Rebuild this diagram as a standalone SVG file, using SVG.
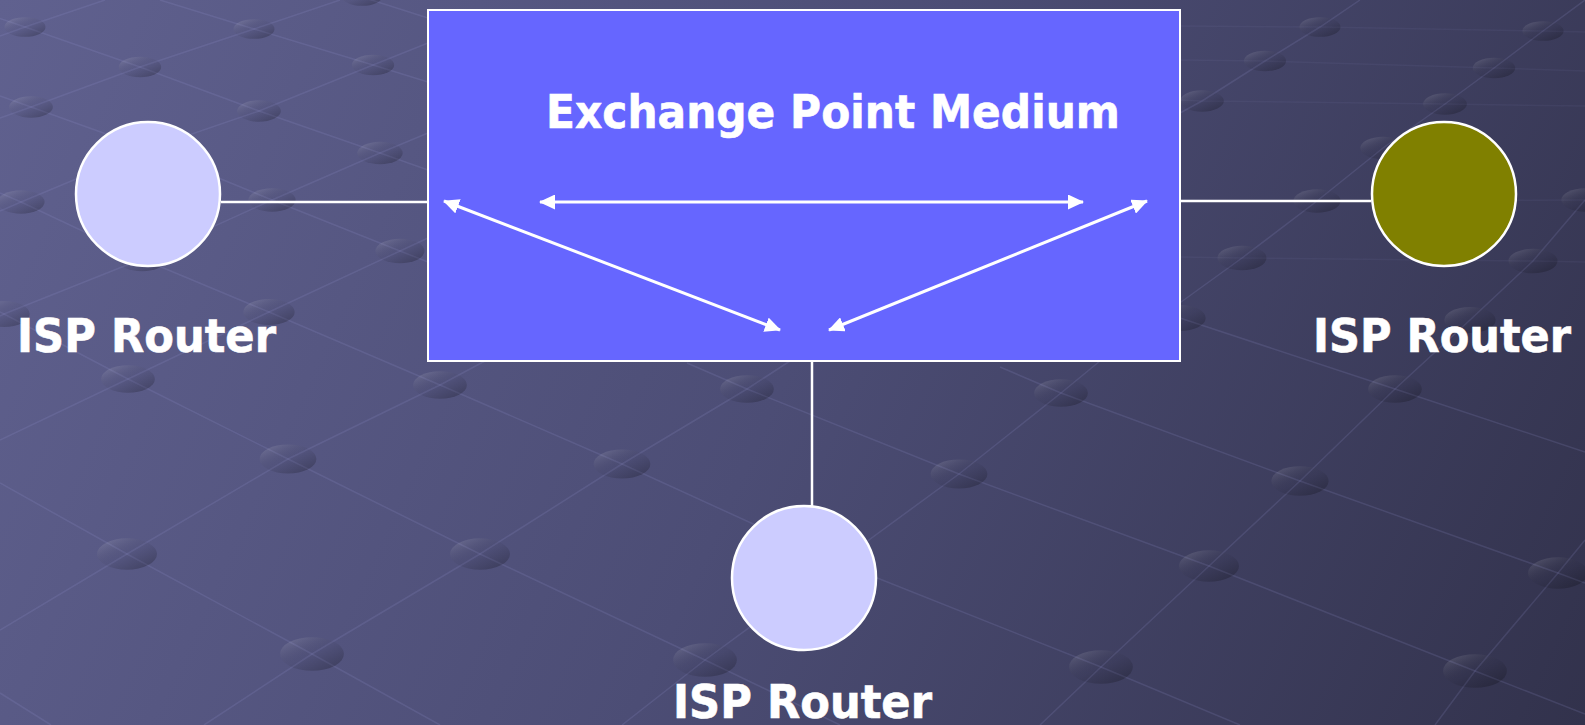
<svg xmlns="http://www.w3.org/2000/svg" width="1585" height="725" viewBox="0 0 1585 725">
<defs>
<linearGradient id="bg" x1="0" y1="0" x2="1585" y2="725" gradientUnits="userSpaceOnUse">
<stop offset="0" stop-color="#60618f"/>
<stop offset="0.5" stop-color="#4c4d75"/>
<stop offset="1" stop-color="#32324c"/>
</linearGradient>
<linearGradient id="dotg" x1="0.15" y1="0.1" x2="0.85" y2="0.9">
<stop offset="0" stop-color="#ffffff" stop-opacity="0.12"/>
<stop offset="0.5" stop-color="#000000" stop-opacity="0.04"/>
<stop offset="1" stop-color="#000000" stop-opacity="0.22"/>
</linearGradient>
<marker id="ah" viewBox="0 0 16 15" refX="15" refY="7.5" markerWidth="16" markerHeight="15" markerUnits="userSpaceOnUse" orient="auto-start-reverse">
<path d="M0,0 L16,7.5 L0,15 z" fill="#ffffff"/>
</marker>
</defs>
<style>
.mesh{fill:none;stroke:#9a9cd8;stroke-opacity:0.16;stroke-width:1.5}
.meshf{fill:none;stroke:#9a9cd8;stroke-opacity:0.07;stroke-width:1.5}
.dot{fill:url(#dotg)}
.link{stroke:#ffffff;stroke-width:2.5;fill:none}
.arrow{stroke:#ffffff;stroke-width:3;fill:none;marker-start:url(#ah);marker-end:url(#ah)}
.router{stroke:#ffffff;stroke-width:2.5}
.lbl{font-family:"DejaVu Sans","Verdana",sans-serif;font-weight:bold;font-size:46px;fill:#ffffff;stroke:#ffffff;stroke-width:0.6}
</style>
<g id="background">
<rect x="0" y="0" width="1585" height="725" fill="url(#bg)"/>
<g id="mesh-lines">
<polyline class="mesh" points="-10,15 25,27 140,67 259,111 380,153 428,170"/>
<polyline class="mesh" points="160,0 254,29 373,65 428,82"/>
<polyline class="mesh" points="362,-3 428,18"/>
<polyline class="mesh" points="0,96 31,107 148,149 272,200 400,251 428,262"/>
<polyline class="mesh" points="0,193 21,202 142,259 269,312 440,385 622,464 832,560 1101,667 1240,725"/>
<polyline class="mesh" points="0,312 4,314 128,379 288,459 480,554 705,660 840,725"/>
<polyline class="mesh" points="0,483 127,554 312,654 440,725"/>
<polyline class="mesh" points="0,693 51,725"/>
<polyline class="mesh" points="687,363 747,389 959,474 1209,566 1475,671 1585,714"/>
<polyline class="mesh" points="1000,367 1061,393 1300,481 1558,573 1585,583"/>
<polyline class="mesh" points="1180,318 1395,389 1585,452"/>
<polyline class="mesh" points="0,36 25,27 105,0"/>
<polyline class="mesh" points="0,118 31,107 140,67 254,29 340,0"/>
<polyline class="mesh" points="0,211 21,202 148,149 259,111 373,65 428,43"/>
<polyline class="mesh" points="0,316 4,314 142,259 272,200 380,153 428,133"/>
<polyline class="mesh" points="0,440 128,379 269,312 400,251 428,238"/>
<polyline class="mesh" points="0,630 127,554 288,459 440,385 485,361"/>
<polyline class="mesh" points="204,725 312,654 480,554 622,464 747,389 790,361"/>
<polyline class="mesh" points="622,725 705,660 832,567 959,474 1061,393 1100,361"/>
<polyline class="mesh" points="1040,725 1101,667 1209,566 1300,481 1395,389 1470,320 1533,261 1585,200"/>
<polyline class="mesh" points="1435,725 1475,671 1558,573 1585,540"/>
<polyline class="mesh" points="1170,310 1242,258 1317,201 1383,148 1445,104 1494,68 1543,31 1585,0"/>
<polyline class="mesh" points="1180,113 1202,101 1265,61 1320,27 1360,0"/>
<polyline class="meshf" points="1180,26 1320,27 1543,31 1585,32"/>
<polyline class="meshf" points="1180,60 1265,61 1494,68 1585,71"/>
<polyline class="meshf" points="1180,100 1202,101 1445,104 1585,106"/>
<polyline class="meshf" points="1180,200 1317,201 1585,200"/>
<polyline class="meshf" points="1180,257 1242,258 1533,261 1585,262"/>
</g>
<g id="mesh-dots">
<ellipse class="dot" cx="362" cy="-4" rx="20.5" ry="9.8"/>
<ellipse class="dot" cx="25" cy="27" rx="20.5" ry="9.8"/>
<ellipse class="dot" cx="254" cy="29" rx="20.5" ry="9.8"/>
<ellipse class="dot" cx="140" cy="67" rx="21.2" ry="10.2"/>
<ellipse class="dot" cx="373" cy="65" rx="21.2" ry="10.2"/>
<ellipse class="dot" cx="31" cy="107" rx="21.9" ry="10.7"/>
<ellipse class="dot" cx="259" cy="111" rx="21.9" ry="10.7"/>
<ellipse class="dot" cx="148" cy="149" rx="22.7" ry="11.2"/>
<ellipse class="dot" cx="380" cy="153" rx="22.7" ry="11.2"/>
<ellipse class="dot" cx="21" cy="202" rx="23.6" ry="11.7"/>
<ellipse class="dot" cx="272" cy="200" rx="23.6" ry="11.7"/>
<ellipse class="dot" cx="400" cy="251" rx="24.5" ry="12.3"/>
<ellipse class="dot" cx="142" cy="259" rx="24.5" ry="12.3"/>
<ellipse class="dot" cx="269" cy="312" rx="25.7" ry="13"/>
<ellipse class="dot" cx="4" cy="314" rx="25.7" ry="13"/>
<ellipse class="dot" cx="128" cy="379" rx="26.9" ry="13.7"/>
<ellipse class="dot" cx="440" cy="385" rx="26.9" ry="13.7"/>
<ellipse class="dot" cx="747" cy="389" rx="26.9" ry="13.7"/>
<ellipse class="dot" cx="288" cy="459" rx="28.4" ry="14.6"/>
<ellipse class="dot" cx="622" cy="464" rx="28.4" ry="14.6"/>
<ellipse class="dot" cx="127" cy="554" rx="30" ry="15.7"/>
<ellipse class="dot" cx="480" cy="554" rx="30" ry="15.7"/>
<ellipse class="dot" cx="832" cy="565" rx="30" ry="15.7"/>
<ellipse class="dot" cx="312" cy="654" rx="31.9" ry="16.8"/>
<ellipse class="dot" cx="705" cy="660" rx="31.9" ry="16.8"/>
<ellipse class="dot" cx="1061" cy="393" rx="26.9" ry="13.7"/>
<ellipse class="dot" cx="1395" cy="389" rx="26.9" ry="13.7"/>
<ellipse class="dot" cx="959" cy="474" rx="28.4" ry="14.6"/>
<ellipse class="dot" cx="1300" cy="481" rx="28.6" ry="14.8"/>
<ellipse class="dot" cx="1209" cy="566" rx="30" ry="15.7"/>
<ellipse class="dot" cx="1558" cy="573" rx="30" ry="15.7"/>
<ellipse class="dot" cx="1101" cy="667" rx="31.9" ry="16.8"/>
<ellipse class="dot" cx="1475" cy="671" rx="31.9" ry="16.8"/>
<ellipse class="dot" cx="1320" cy="27" rx="20.5" ry="9.8"/>
<ellipse class="dot" cx="1543" cy="31" rx="20.6" ry="9.8"/>
<ellipse class="dot" cx="1265" cy="61" rx="21.1" ry="10.2"/>
<ellipse class="dot" cx="1494" cy="68" rx="21.2" ry="10.2"/>
<ellipse class="dot" cx="1202" cy="101" rx="21.9" ry="10.7"/>
<ellipse class="dot" cx="1445" cy="104" rx="21.9" ry="10.7"/>
<ellipse class="dot" cx="1383" cy="148" rx="22.7" ry="11.2"/>
<ellipse class="dot" cx="1317" cy="201" rx="23.6" ry="11.7"/>
<ellipse class="dot" cx="1585" cy="200" rx="23.6" ry="11.7"/>
<ellipse class="dot" cx="1242" cy="258" rx="24.5" ry="12.3"/>
<ellipse class="dot" cx="1533" cy="261" rx="24.5" ry="12.3"/>
<ellipse class="dot" cx="1180" cy="318" rx="25.7" ry="13"/>
<ellipse class="dot" cx="1470" cy="320" rx="25.7" ry="13"/>
</g>
</g>
<g id="exchange-point">
<rect x="428" y="10" width="752" height="351" fill="#6666ff" stroke="#ffffff" stroke-width="2"/>
<text class="lbl" x="546" y="128" textLength="574" lengthAdjust="spacingAndGlyphs">Exchange Point Medium</text>
</g>
<g id="router-left">
<circle class="router" cx="148" cy="194" r="72" fill="#ccccff"/>
<text class="lbl" x="17" y="352" textLength="259" lengthAdjust="spacingAndGlyphs">ISP Router</text>
</g>
<g id="router-right">
<circle class="router" cx="1444" cy="194" r="72" fill="#808000"/>
<text class="lbl" x="1313" y="352" textLength="258" lengthAdjust="spacingAndGlyphs">ISP Router</text>
</g>
<g id="router-bottom">
<circle class="router" cx="804" cy="578" r="72" fill="#ccccff"/>
<text class="lbl" x="673" y="718" textLength="259" lengthAdjust="spacingAndGlyphs">ISP Router</text>
</g>
<g id="connectors">
<line class="link" x1="221" y1="202" x2="427" y2="202"/>
<line class="link" x1="1181" y1="201" x2="1371" y2="201"/>
<line class="link" x1="812" y1="362" x2="812" y2="506"/>
<line class="arrow" x1="540" y1="202" x2="1083" y2="202"/>
<line class="arrow" x1="444" y1="201" x2="780" y2="330"/>
<line class="arrow" x1="1147" y1="201" x2="829" y2="330"/>
</g>
</svg>
